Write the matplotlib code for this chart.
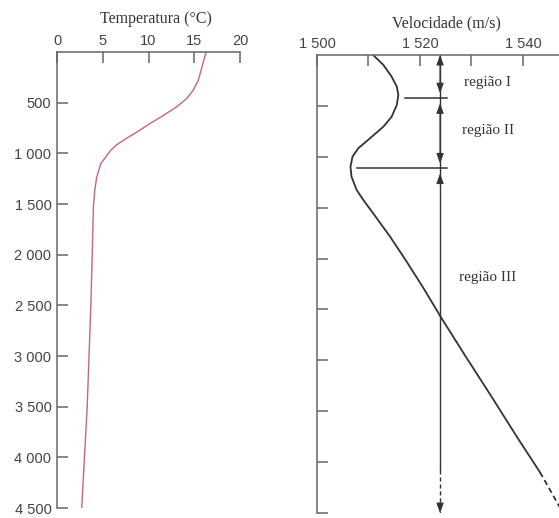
import numpy as np
import matplotlib.pyplot as plt
from matplotlib.ticker import FixedLocator, FuncFormatter

# perfil de temperatura (profundidade em m, temperatura em °C)
temp_depth = [0, 79, 178, 276, 375, 457, 540, 622, 704, 786, 852, 910, 967, 1099,
              1230, 1362, 1527, 2000, 2500, 3000, 3500, 4000, 4500]
temp_value = [16.3, 16.05, 15.75, 15.45, 14.9, 14.2, 13.1, 11.7, 10.2, 8.8, 7.6,
              6.6, 5.9, 4.8, 4.35, 4.13, 3.98, 3.85, 3.7, 3.5, 3.3, 3.0, 2.7]

# perfil de velocidade do som (m/s)
vel_depth = [0, 98, 213, 311, 393, 491, 606, 704, 818, 917, 999, 1097, 1196,
             1326, 1425, 1555, 1785, 2014, 2276, 2587, 2964, 3357, 3750, 4045,
             4100, 4241, 4421, 4500]
vel_value = [1510.9, 1512.9, 1514.5, 1515.5, 1515.8, 1515.5, 1514.5, 1512.9,
             1510.3, 1508.0, 1506.9, 1506.5, 1506.7, 1507.7, 1509.0, 1510.9,
             1514.2, 1517.2, 1520.5, 1524.2, 1528.9, 1533.9, 1538.8, 1542.6,
             1543.3, 1544.9, 1546.9, 1547.8]
vel_dash_from = 4100

# regiões
region_bounds = [0, 425, 1115, 4500]
region_line_start = [1517.1, 1507.8]
region_line_end = 1525.2
region_arrow_speed = 1523.9
region_arrow_dash_from = 4080
region_labels = ['região I', 'região II', 'região III']
region_label_depth = [266, 740, 2190]
region_label_speed = 1533.2

depth_ticks = [500, 1000, 1500, 2000, 2500, 3000, 3500, 4000, 4500]
temp_ticks = [0, 5, 10, 15, 20]
vel_ticks = [1500, 1520, 1540]
vel_minor_ticks = [1510, 1530]

W, H = 559, 518
axis_col = '#666666'
text_col = '#444444'
ink = '#333333'
serif = ['Liberation Serif', 'DejaVu Serif']
sans = ['Liberation Sans', 'DejaVu Sans']


def spaced(v, pos=None):
    return f'{int(v):,}'.replace(',', ' ')


def style_axes(ax):
    for side in ['right', 'bottom']:
        ax.spines[side].set_visible(False)
    for side in ['left', 'top']:
        ax.spines[side].set_color(axis_col)
        ax.spines[side].set_linewidth(1.1)
    ax.xaxis.tick_top()
    ax.tick_params(which='both', direction='in', length=8, width=1.1,
                   color=axis_col, labelcolor=text_col, labelsize=10.5)
    ax.tick_params(axis='x', which='both', pad=3)
    ax.tick_params(axis='y', pad=4)
    ax.set_ylim(4500, 0)
    ax.yaxis.set_major_locator(FixedLocator(depth_ticks))
    for lab in ax.get_xticklabels() + ax.get_yticklabels():
        lab.set_family(sans)


fig = plt.figure(figsize=(W / 100, H / 100), dpi=100)

# temperatura
ax1 = fig.add_axes([57 / W, (H - 508) / H, 183 / W, 456 / H])
ax1.plot(temp_value, temp_depth, color='#c8647c', lw=1.0)
ax1.set_xlim(0, 20)
ax1.xaxis.set_major_locator(FixedLocator(temp_ticks))
ax1.yaxis.set_major_formatter(FuncFormatter(spaced))
style_axes(ax1)
ax1.text(0.54, 1 + 25 / 456, 'Temperatura (°C)', transform=ax1.transAxes,
         ha='center', va='bottom', fontsize=11.5, family=serif, color=ink)

# velocidade
ax2 = fig.add_axes([317 / W, (H - 513) / H, (W - 317) / W, 458 / H])
d = np.array(vel_depth)
v = np.array(vel_value)
solid = d <= vel_dash_from
dash = d >= vel_dash_from
ax2.plot(v[solid], d[solid], color=ink, lw=1.3)
ax2.plot(v[dash], d[dash], color=ink, lw=1.3, ls=(0, (3, 2)))
ax2.set_xlim(1500, 1547)
ax2.xaxis.set_major_locator(FixedLocator(vel_ticks))
ax2.xaxis.set_minor_locator(FixedLocator(vel_minor_ticks))
ax2.xaxis.set_major_formatter(FuncFormatter(spaced))
style_axes(ax2)
ax2.set_yticklabels([])
ax2.text(0.533, 1 + 24 / 458, 'Velocidade (m/s)', transform=ax2.transAxes,
         ha='center', va='bottom', fontsize=11.5, family=serif, color=ink)

# linhas de separação das regiões
for b, x0 in zip(region_bounds[1:-1], region_line_start):
    ax2.plot([x0, region_line_end], [b, b], color=ink, lw=1.1)

# linha vertical com setas
xa = region_arrow_speed
ax2.plot([xa, xa], [region_bounds[0], region_arrow_dash_from], color=ink, lw=1.0)
ax2.plot([xa, xa], [region_arrow_dash_from, region_bounds[-1]], color=ink,
         lw=1.0, ls=(0, (3, 2)))
gap = 50
head = dict(color=ink, lw=0.8, shrinkA=0, shrinkB=0)
style = '-|>,head_length=0.6,head_width=0.22'
for i in range(len(region_bounds) - 1):
    top = region_bounds[i] + (gap if i > 0 else 0)
    bot = region_bounds[i + 1] - (gap if i < len(region_bounds) - 2 else 0)
    if i < len(region_bounds) - 2:
        ax2.annotate('', xy=(xa, bot), xytext=(xa, top),
                     arrowprops=dict(arrowstyle='<|-|>,head_length=0.6,head_width=0.22', **head))
    else:
        ax2.annotate('', xy=(xa, top), xytext=(xa, top + 100),
                     arrowprops=dict(arrowstyle=style, **head))
        ax2.annotate('', xy=(xa, bot), xytext=(xa, bot - 100),
                     arrowprops=dict(arrowstyle=style, **head),
                     annotation_clip=False)

for lab, dep in zip(region_labels, region_label_depth):
    ax2.text(region_label_speed, dep, lab, ha='center', va='center',
             fontsize=11, family=serif, color=ink)

fig.savefig('out.png', dpi=100)
